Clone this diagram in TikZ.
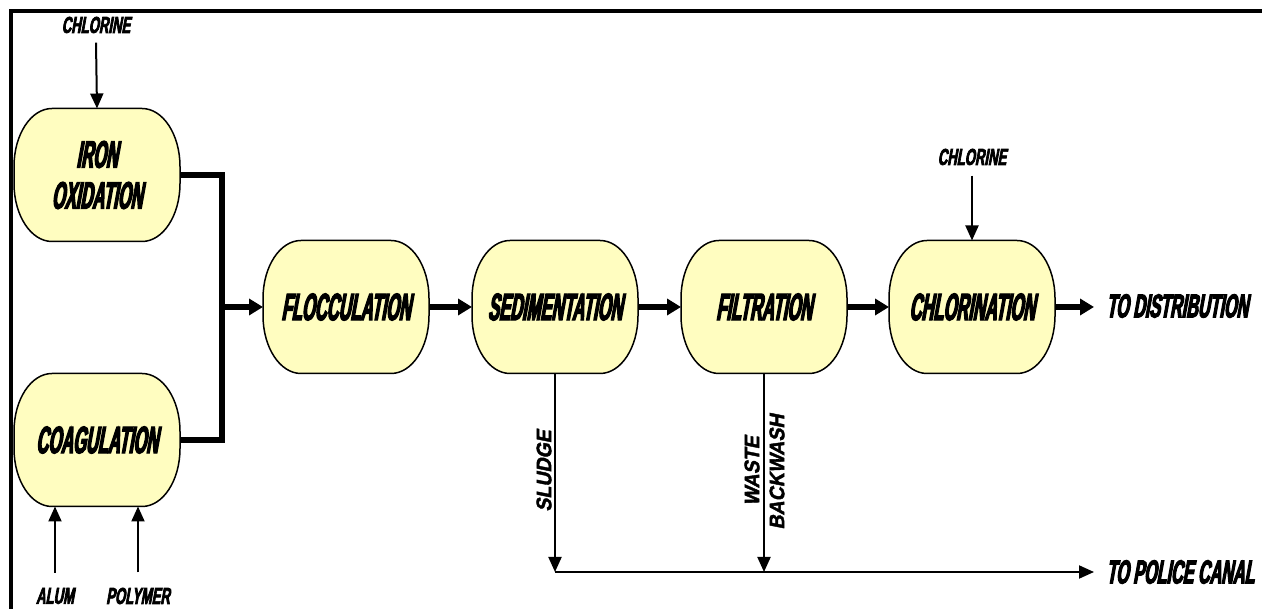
\documentclass[tikz,border=0pt]{standalone}
\usepackage{fontspec}
\newfontfamily\bigf[FakeStretch=0.435,FakeSlant=0.18,FakeBold=3.5]{Liberation Sans}
\newfontfamily\outf[FakeStretch=0.49,FakeSlant=0.18,FakeBold=3.5]{Liberation Sans}
\newfontfamily\smf[FakeStretch=0.57,FakeSlant=0.18,FakeBold=3]{Liberation Sans}
\newfontfamily\rotf[FakeStretch=0.93,FakeSlant=0.2,FakeBold=2]{Liberation Sans}
\usetikzlibrary{arrows.meta}
\definecolor{procyellow}{HTML}{FFFDC0}
\tikzset{
  procshape/.style={fill=procyellow,draw=black,line width=0.75pt},
  procnode/.style={rectangle,minimum width=83pt,minimum height=66.5pt,inner sep=0pt,outer sep=0pt,
    align=center,font=\bigf\bfseries\fontsize{19}{20.5}\selectfont},
  smlabel/.style={inner sep=0pt,font=\smf\bfseries\fontsize{11.5}{13}\selectfont},
  outlabel/.style={inner sep=0pt,font=\outf\bfseries\fontsize{16.5}{18}\selectfont},
  rotlabel/.style={inner sep=0pt,rotate=90,font=\rotf\bfseries\fontsize{10.5}{12}\selectfont},
  thickline/.style={line width=3pt,line join=miter},
  thickarrow/.style={line width=3pt,-{Triangle[length=7pt,width=8pt]}},
  thinarrow/.style={line width=1pt,-{Triangle[length=7.5pt,width=6.5pt]}},
  frame/.style={line width=2pt,line join=miter}
}
\newcommand\procbox[4]{%
  \path[procshape] (#2,#3) ++(-83,-8.5) -- ++(0,17)
    arc[start angle=180,end angle=90,x radius=38,y radius=58] -- ++(90,0)
    arc[start angle=90,end angle=0,x radius=38,y radius=58] -- ++(0,-17)
    arc[start angle=0,end angle=-90,x radius=38,y radius=58] -- ++(-90,0)
    arc[start angle=270,end angle=180,x radius=38,y radius=58] -- cycle;
  \node[procnode] (#1) at (#2,#3) {#4};}
\begin{document}
\begin{tikzpicture}[x=0.5pt,y=0.5pt]
\useasboundingbox (0,0) rectangle (1262,609);
\fill[white] (0,0) rectangle (1262,609);
\draw[frame] (11,-10) -- (11,598) -- (1275,598);

\procbox{iron}{97}{434}{IRON\\OXIDATION}
\procbox{coag}{97}{169}{COAGULATION}
\procbox{floc}{346}{302}{FLOCCULATION}
\procbox{sed}{555}{302}{SEDIMENTATION}
\procbox{filt}{764}{302}{FILTRATION}
\procbox{chlor}{972}{302}{CHLORINATION}

\node[smlabel] (cl1) at (96,584) {CHLORINE};
\node[smlabel] (cl2) at (972,452) {CHLORINE};
\node[smlabel] (alum) at (55,13) {ALUM};
\node[smlabel] (poly) at (138,13) {POLYMER};
\node[outlabel,anchor=west] (dist) at (1106,303) {TO DISTRIBUTION};
\node[outlabel,anchor=west] (canal) at (1106,37) {TO POLICE CANAL};
\node[rotlabel] (sludge) at (544,138) {SLUDGE};
\node[rotlabel] (waste) at (752,138) {WASTE};
\node[rotlabel] (backwash) at (777,137) {BACKWASH};

\coordinate (j) at (222,302);
\coordinate (sj) at (555,37);

\draw[thinarrow] ([yshift=-4.5pt]cl1.south) -- (iron.north);
\draw[thinarrow] ([yshift=-5pt]cl2.south -| chlor.north) -- (chlor.north);
\draw[thinarrow] ([yshift=7.5pt]alum.north) -- (alum.north |- coag.south);
\draw[thinarrow] ([yshift=7.5pt]poly.north) -- (poly.north |- coag.south);

\draw[thickline] (iron.east) -| (j) |- (coag.east);
\draw[thickarrow] (j) -- (floc.west);
\draw[thickarrow] (floc.east) -- (sed.west);
\draw[thickarrow] (sed.east) -- (filt.west);
\draw[thickarrow] (filt.east) -- (chlor.west);
\draw[thickarrow,shorten >=6pt] (chlor.east) -- (chlor.east -| dist.west);

\draw[thinarrow] (sed.south) -- (sj);
\draw[thinarrow] (filt.south) -- (filt.south |- sj);
\draw[thinarrow,shorten >=6pt] (sj) -- (sj -| canal.west);
\end{tikzpicture}
\end{document}
